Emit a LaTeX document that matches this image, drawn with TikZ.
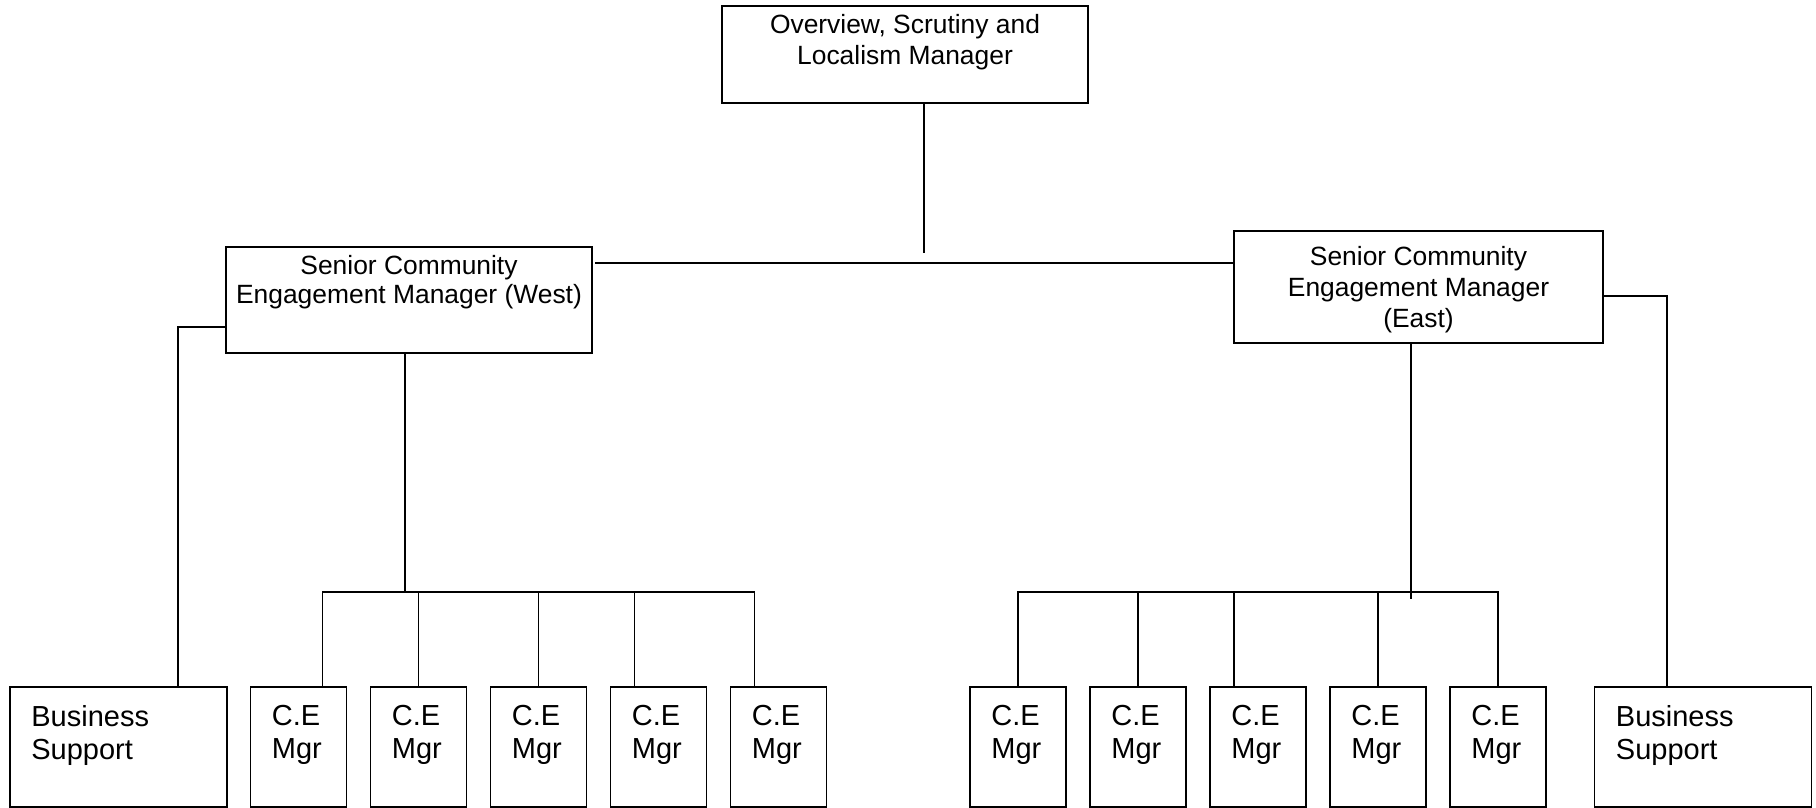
\documentclass[tikz,border=0pt]{standalone}
\usepackage{fontspec}
\setmainfont{Liberation Sans}
\usetikzlibrary{positioning}

\begin{document}
\begin{tikzpicture}[x=0.5pt,y=-0.5pt]
    \tikzset{
      post/.style={draw=black,line width=0.8pt,inner sep=0pt,outer sep=0pt,anchor=north west},
      headpost/.style={post,line width=1.1pt},
      ceunit/.style={post,minimum width=48pt,minimum height=60pt},
      support/.style={post,minimum width=108.5pt,minimum height=60pt},
      headtext/.style={align=center,inner sep=0pt,font=\fontsize{13.2}{15.5}\selectfont},
      unittext/.style={align=left,inner sep=0pt,font=\fontsize{14.5}{16.5}\selectfont},
      link/.style={draw=black,line width=0.75pt}
    }
    \useasboundingbox (0,0) rectangle (1816,808);
    % managers
    \node[headpost,minimum width=183pt,minimum height=48.5pt] (osl) at (722,6) {};
    \node[headtext,below=3.8pt of osl.north] (osl-t) {Overview, Scrutiny and\\Localism Manager};
    \node[headpost,minimum width=183pt,minimum height=53pt] (west) at (226,247) {};
    \node[headtext,font=\fontsize{13.2}{14.5}\selectfont,below=3.8pt of west.north] (west-t) {Senior Community\\Engagement Manager (West)};
    \node[post,minimum width=184.5pt,minimum height=56pt] (east) at (1234,231) {};
    \node[headtext,below=7.5pt of east.north] (east-t) {Senior Community\\Engagement Manager\\(East)};
    % bottom row
    \node[support] (wbs) at (10,687) {};
    \node[ceunit,right=11.75pt of wbs] (w1) {};
    \node[ceunit,right=12pt of w1] (w2) {};
    \node[ceunit,right=12pt of w2] (w3) {};
    \node[ceunit,right=12pt of w3] (w4) {};
    \node[ceunit,right=12pt of w4] (w5) {};
    \node[ceunit] (e1) at (970,687) {};
    \node[ceunit,right=12pt of e1] (e2) {};
    \node[ceunit,right=12pt of e2] (e3) {};
    \node[ceunit,right=12pt of e3] (e4) {};
    \node[ceunit,right=12pt of e4] (e5) {};
    \node[support,right=24.25pt of e5] (ebs) {};
    \foreach \u in {wbs,ebs}
      \node[unittext,below right=8.9pt and 10.5pt of \u.north west] (\u-t) {Business\\Support};
    \foreach \u in {w1,w2,w3,w4,w5,e1,e2,e3,e4,e5}
      \node[unittext,below right=8.9pt and 10.5pt of \u.north west] (\u-t) {C.E\\Mgr};
    % reporting lines
    \coordinate (gap) at (924,253);
    \coordinate (span) at (595,263);
    \coordinate (wbus) at (405,592);
    \coordinate (ebus) at (1411,592);
    \draw[link] (osl.south -| gap) -- (gap);
    \draw[link] (span) -- (span -| east.west);
    \draw[link] ([yshift=-13.5pt]west.west) -| ([xshift=84pt]wbs.north west);
    \draw[link] ([yshift=-4.5pt]east.east) -| ([xshift=36.25pt]ebs.north west);
    \draw[link] (wbus |- west.south) -- (wbus);
    \draw[link] (ebus |- east.south) -- ([yshift=-3.5pt]ebus);
    \foreach \u/\s in {w1/36pt,w2/24pt,w3/24pt,w4/12pt,w5/12pt}
      \draw[link] (wbus) -| ([xshift=\s]\u.north west);
    \foreach \u/\s in {e1/24pt,e2/24pt,e3/12pt,e4/24pt,e5/24pt}
      \draw[link] (ebus) -| ([xshift=\s]\u.north west);
\end{tikzpicture}
\end{document}
